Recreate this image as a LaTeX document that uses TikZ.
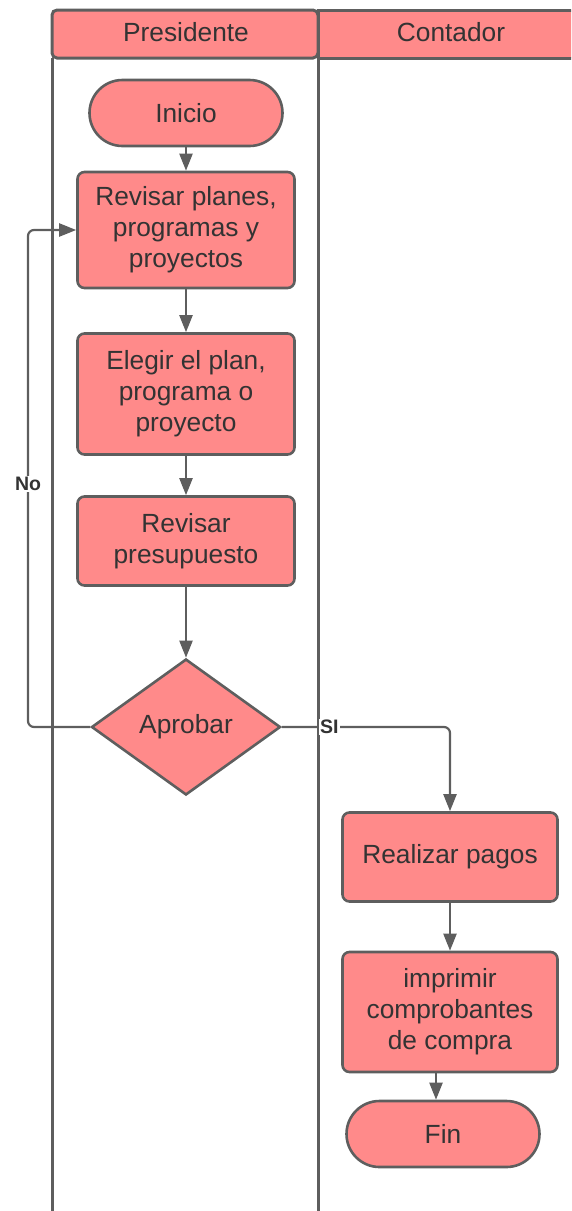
\documentclass[tikz,border=0pt]{standalone}
\usepackage{fontspec}
\setmainfont{Liberation Sans}
\usetikzlibrary{arrows.meta,shapes.geometric}
\definecolor{boxfill}{HTML}{FF8A8A}
\definecolor{edge}{HTML}{5E5E5E}
\definecolor{ink}{HTML}{333333}
\begin{document}
\begin{tikzpicture}[x=1pt,y=-1pt,
  lane/.style={draw=edge,line width=3pt},
  proc/.style={draw=edge,line width=2.6pt,fill=boxfill,rounded corners=7pt,
    minimum width=217pt,inner sep=0pt,align=center,text=ink,
    font=\fontsize{26.3}{31}\selectfont},
  term/.style={proc,rounded corners=33pt,minimum width=193pt,minimum height=66pt},
  decide/.style={draw=edge,line width=2.6pt,fill=boxfill,diamond,aspect=1.39,
    minimum width=189pt,minimum height=136pt,inner sep=0pt,text=ink,
    font=\fontsize{26.3}{31}\selectfont},
  conn/.style={draw=edge,line width=2.2pt,rounded corners=6pt,
    -{Triangle[length=17pt,width=13pt]}},
  tag/.style={text=ink,font=\bfseries\fontsize{19.5}{22}\selectfont,fill=white,inner sep=1pt}
]
\useasboundingbox (0,0) rectangle (571,1211);
\clip (0,0) rectangle (571,1211);

% swimlane headers
\path[lane,fill=boxfill,rounded corners=5pt] (52,58) -- (52,10) -- (318,10) -- (318,58) -- cycle;
\path[lane,fill=boxfill] (318,58) -- (318,10) -- (580,10) -- (580,58) -- cycle;
\node[text=ink,font=\fontsize{26.3}{30}\selectfont] (hpres) at (186,32) {Presidente};
\node[text=ink,font=\fontsize{26.3}{30}\selectfont] (hcont) at (451,32) {Contador};

% lane borders
\draw[lane] (52,58) -- (52,1220);
\draw[lane] (318,58) -- (318,1220);

% Presidente lane
\node[term] (inicio) at (186,113) {Inicio};
\node[proc,minimum height=116pt] (rev1) at (186,230) {Revisar planes,\\programas y\\proyectos};
\node[proc,minimum height=121pt] (elegir) at (186,394) {Elegir el plan,\\programa o\\proyecto};
\node[proc,minimum height=89pt] (presup) at (186,541) {Revisar\\presupuesto};
\node[decide] (aprobar) at (186,727) {Aprobar};

% Contador lane
\node[proc,minimum width=215pt,minimum height=89pt] (pagos) at (450,857) {Realizar pagos};
\node[proc,minimum width=215pt,minimum height=120pt] (imprimir) at (450,1012) {imprimir\\comprobantes\\de compra};
\node[term] (fin) at (443,1134) {Fin};

% connectors
\draw[conn] (inicio) -- (rev1);
\draw[conn] (rev1) -- (elegir);
\draw[conn] (elegir) -- (presup);
\draw[conn] (presup) -- (aprobar);
\coordinate (nocorner) at (28,727);
\draw[conn] (aprobar.west) -- (nocorner) |- (rev1.west);
\node[tag] (nolabel) at (28,484) {No};
\draw[conn] (aprobar.east) -| (pagos.north);
\node[tag,anchor=west] (silabel) at (319,727) {SI};
\draw[conn] (pagos) -- (imprimir);
\draw[conn] ([xshift=-14pt]imprimir.south) -- ([xshift=-7pt]fin.north);
\end{tikzpicture}
\end{document}
